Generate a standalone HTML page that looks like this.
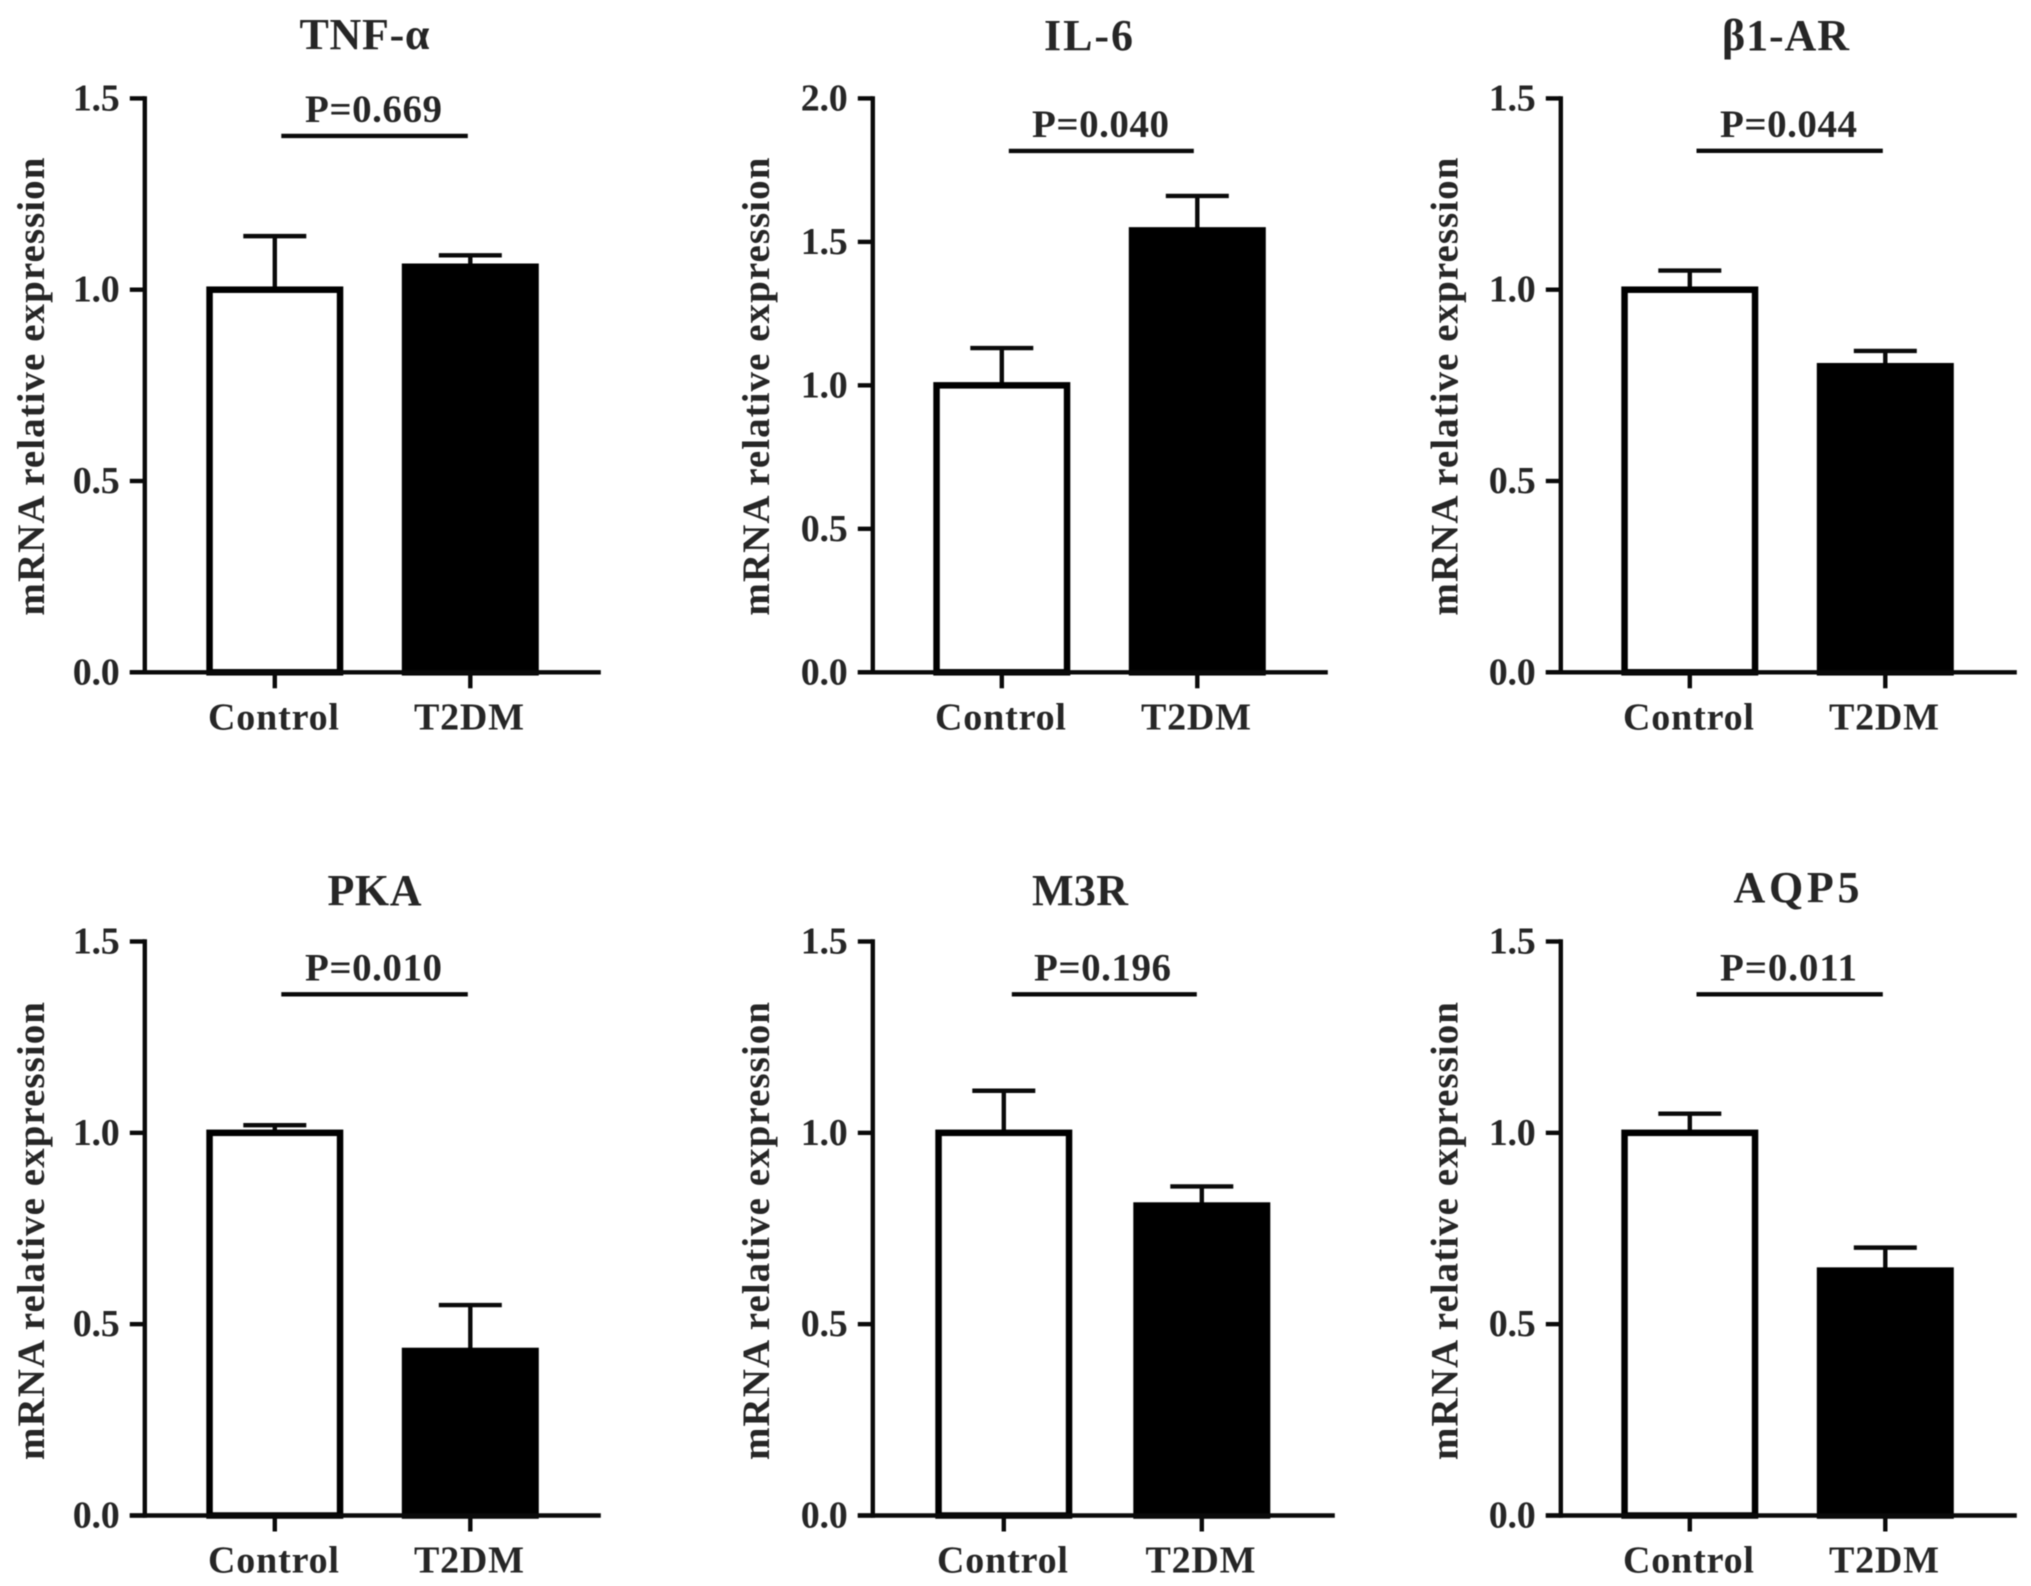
<!DOCTYPE html>
<html lang="en">
<head>
<meta charset="utf-8">
<title>mRNA relative expression: Control vs T2DM</title>
<style>
  html, body { margin: 0; padding: 0; background: #fff; }
  #figure { display: block; width: 2031px; height: 1586px; background: #fff; }
  #figure text { font-family: "Liberation Serif", "DejaVu Serif", serif; font-weight: bold; fill: #262626; }
  #plots { filter: blur(0.6px); }
</style>
</head>
<body>
<svg id="figure" xmlns="http://www.w3.org/2000/svg" width="2031" height="1586" viewBox="0 0 2031 1586">
  <g id="plots" transform="translate(-1.2 0)"></g>
</svg>
<script>
// ---- Data ----
const panelTitles = ["TNF-α", "IL-6", "β1-AR", "PKA", "M3R", "AQP5"];
const categories = ["Control", "T2DM"];
const controlMeans = [1.00, 1.00, 1.00, 1.00, 1.00, 1.00];
const t2dmMeans = [1.06, 1.54, 0.80, 0.43, 0.81, 0.64];
const controlErrors = [0.14, 0.13, 0.05, 0.02, 0.11, 0.05];
const t2dmErrors = [0.03, 0.12, 0.04, 0.12, 0.05, 0.06];
const pValueLabels = ["P=0.669", "P=0.040", "P=0.044", "P=0.010", "P=0.196", "P=0.011"];
const bracketLevels = [1.402, 1.817, 1.363, 1.362, 1.362, 1.362];
const axisMaxima = [1.5, 2.0, 1.5, 1.5, 1.5, 1.5];
const tickLabels15 = ["0.0", "0.5", "1.0", "1.5"];
const tickLabels20 = ["0.0", "0.5", "1.0", "1.5", "2.0"];
const yAxisTitle = "mRNA relative expression";

// ---- Layout (pixels), kept apart from the data ----
const layout = [
  { top: 98.4,  base: 672.3,  axisX: 146,  xEnd: 602,  c1: 276,  c2: 471.5,  titleX: 367,  titleY: 49,  titleW: 130, labelX: 46.7, labelY: 386.6, sig1: 282.5, sig2: 469,  pX: 376,  catY: 729.5 },
  { top: 98.4,  base: 672.3,  axisX: 874,  xEnd: 1329, c1: 1003, c2: 1198.5, titleX: 1091, titleY: 50,  titleW: 89,  labelX: 771.7, labelY: 386.6, sig1: 1010, sig2: 1195, pX: 1103, catY: 729.5 },
  { top: 98.4,  base: 672.3,  axisX: 1562, xEnd: 2018, c1: 1691, c2: 1886.5, titleX: 1788, titleY: 50,  titleW: 127, labelX: 1460, labelY: 386.6, sig1: 1697.7, sig2: 1884, pX: 1791, catY: 729.5 },
  { top: 941.5, base: 1515.5, axisX: 146,  xEnd: 602,  c1: 276,  c2: 471.5,  titleX: 377,  titleY: 905, titleW: 94,  labelX: 46.7, labelY: 1231, sig1: 282.5, sig2: 469,  pX: 376,  catY: 1572.6 },
  { top: 941.5, base: 1515.5, axisX: 874,  xEnd: 1336, c1: 1005, c2: 1203,   titleX: 1082.5, titleY: 905, titleW: 96, labelX: 771.7, labelY: 1231, sig1: 1013, sig2: 1198, pX: 1105, catY: 1572.6 },
  { top: 941.5, base: 1515.5, axisX: 1562, xEnd: 2018, c1: 1691, c2: 1886.5, titleX: 1799, titleY: 902, titleW: 126, labelX: 1460, labelY: 1231, sig1: 1697.7, sig2: 1884, pX: 1791, catY: 1572.6 }
];
const barWidth = 137;
const barStroke = 6.5;
const capWidth = 63;
const lineWidth = 4.4;
const textNudge = -1.3;
const ink = "#0a0a0a";
const svgNS = "http://www.w3.org/2000/svg";
const root = document.getElementById("plots");

function make(parent, tag, props, content) {
  const node = document.createElementNS(svgNS, tag);
  for (const key in props) node.setAttribute(key, props[key]);
  if (content !== undefined) node.textContent = content;
  parent.appendChild(node);
  return node;
}
function hLine(parent, x1, x2, y, w) {
  return make(parent, "line", { x1: x1, x2: x2, y1: y, y2: y, stroke: ink, "stroke-width": w });
}
function vLine(parent, x, y1, y2, w) {
  return make(parent, "line", { x1: x, x2: x, y1: y1, y2: y2, stroke: ink, "stroke-width": w });
}

panelTitles.forEach(function (title, i) {
  const box = layout[i];
  const maxValue = axisMaxima[i];
  const yScale = function (v) { return box.base - (v / maxValue) * (box.base - box.top); };
  const ticks = maxValue === 2 ? tickLabels20 : tickLabels15;
  const slug = title.toLowerCase().replace("α", "alpha").replace("β", "beta");

  const panel = make(root, "g", {});
  
  

  const titleText = make(panel, "text", { x: box.titleX + textNudge, y: box.titleY, "text-anchor": "middle", "font-size": 44, textLength: box.titleW, lengthAdjust: "spacing" }, title);
  
  

  const yTitle = make(panel, "text", { x: 0, y: 0, transform: "translate(" + (box.labelX + textNudge) + " " + box.labelY + ") rotate(-90)", "text-anchor": "middle", "font-size": 39, textLength: 458, lengthAdjust: "spacing" }, yAxisTitle);
  
  

  // Bars with upward error bars, one per category
  [controlMeans[i], t2dmMeans[i]].forEach(function (mean, k) {
    const cx = k === 0 ? box.c1 : box.c2;
    const err = k === 0 ? controlErrors[i] : t2dmErrors[i];

    const stem = vLine(panel, cx, yScale(mean), yScale(mean + err), lineWidth);
    
    

    const cap = hLine(panel, cx - capWidth / 2, cx + capWidth / 2, yScale(mean + err), lineWidth);
    
    

    const bar = make(panel, "rect", {
      x: cx - barWidth / 2 + barStroke / 2,
      y: yScale(mean),
      width: barWidth - barStroke,
      height: box.base - yScale(mean),
      fill: k === 0 ? "#ffffff" : "#000000",
      stroke: "#000000",
      "stroke-width": barStroke
    });
    
    

    const xTick = vLine(panel, cx, box.base, box.base + 16, lineWidth);
    
    

    const catLabel = make(panel, "text", { x: cx + textNudge, y: box.catY, "text-anchor": "middle", "font-size": 38, textLength: k === 0 ? 131 : 110, lengthAdjust: "spacing" }, categories[k]);
    
    
  });

  // Axes
  const yAxis = vLine(panel, box.axisX, box.top - 2.2, box.base + 2.2, lineWidth);
  
  

  const xAxis = hLine(panel, box.axisX - 15, box.xEnd, box.base, lineWidth);
  
  

  ticks.forEach(function (label) {
    const v = parseFloat(label);

    const tick = hLine(panel, box.axisX - 15, box.axisX, yScale(v), lineWidth);
    
    

    const tickText = make(panel, "text", { x: box.axisX - 25, y: yScale(v) + 12, "text-anchor": "end", "font-size": 38, textLength: 47, lengthAdjust: "spacing" }, label);
    
    
  });

  // Significance bracket and p-value
  const bracketY = yScale(bracketLevels[i]);
  const bracket = hLine(panel, box.sig1, box.sig2, bracketY, lineWidth);
  
  

  const pText = make(panel, "text", { x: box.pX + textNudge, y: bracketY - 14, "text-anchor": "middle", "font-size": 39, textLength: 137, lengthAdjust: "spacing" }, pValueLabels[i]);
  
  
});
</script>
</body>
</html>
